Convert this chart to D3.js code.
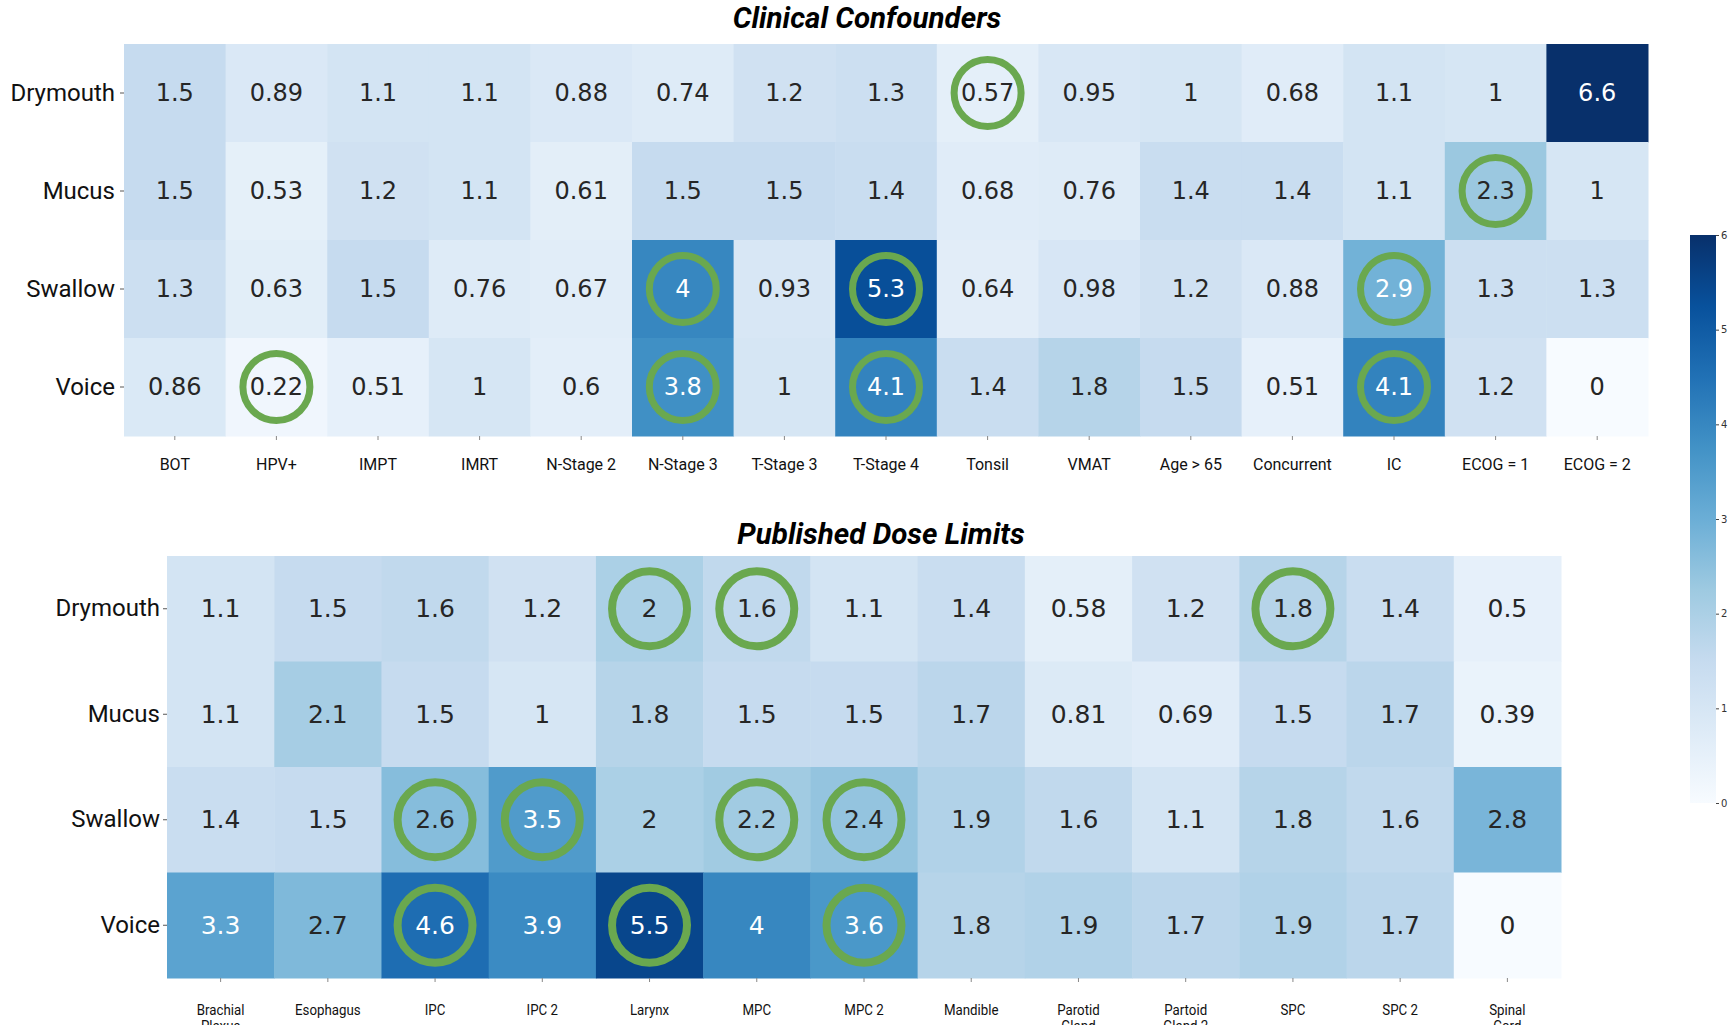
<!DOCTYPE html>
<html>
<head>
<meta charset="utf-8">
<script src="https://cdn.jsdelivr.net/npm/d3@7"></script>
<style>
  html, body { margin: 0; padding: 0; background: #fff; overflow: hidden; }
  svg { display: block; }
</style>
</head>
<body>
<div id="chart"></div>
<script>
// Odds ratios per toxicity outcome

const outcomes = ["Drymouth", "Mucus", "Swallow", "Voice"];

const clinicalFactors = ["BOT", "HPV+", "IMPT", "IMRT", "N-Stage 2", "N-Stage 3", "T-Stage 3", "T-Stage 4",
  "Tonsil", "VMAT", "Age > 65", "Concurrent", "IC", "ECOG = 1", "ECOG = 2"];
const clinicalDrymouth = [1.5, 0.89, 1.1, 1.1, 0.88, 0.74, 1.2, 1.3, 0.57, 0.95, 1, 0.68, 1.1, 1, 6.6];
const clinicalMucus    = [1.5, 0.53, 1.2, 1.1, 0.61, 1.5, 1.5, 1.4, 0.68, 0.76, 1.4, 1.4, 1.1, 2.3, 1];
const clinicalSwallow  = [1.3, 0.63, 1.5, 0.76, 0.67, 4, 0.93, 5.3, 0.64, 0.98, 1.2, 0.88, 2.9, 1.3, 1.3];
const clinicalVoice    = [0.86, 0.22, 0.51, 1, 0.6, 3.8, 1, 4.1, 1.4, 1.8, 1.5, 0.51, 4.1, 1.2, 0];
// circled (significant) cells: [outcome, factor]
const clinicalCircled = [["Drymouth", "Tonsil"], ["Mucus", "ECOG = 1"], ["Swallow", "N-Stage 3"],
  ["Swallow", "T-Stage 4"], ["Swallow", "IC"], ["Voice", "HPV+"], ["Voice", "N-Stage 3"],
  ["Voice", "T-Stage 4"], ["Voice", "IC"]];

const doseOrgans = ["Brachial Plexus", "Esophagus", "IPC", "IPC 2", "Larynx", "MPC", "MPC 2", "Mandible",
  "Parotid Gland", "Partoid Gland 2", "SPC", "SPC 2", "Spinal Cord"];
const doseDrymouth = [1.1, 1.5, 1.6, 1.2, 2, 1.6, 1.1, 1.4, 0.58, 1.2, 1.8, 1.4, 0.5];
const doseMucus    = [1.1, 2.1, 1.5, 1, 1.8, 1.5, 1.5, 1.7, 0.81, 0.69, 1.5, 1.7, 0.39];
const doseSwallow  = [1.4, 1.5, 2.6, 3.5, 2, 2.2, 2.4, 1.9, 1.6, 1.1, 1.8, 1.6, 2.8];
const doseVoice    = [3.3, 2.7, 4.6, 3.9, 5.5, 4, 3.6, 1.8, 1.9, 1.7, 1.9, 1.7, 0];
const doseCircled = [["Drymouth", "Larynx"], ["Drymouth", "MPC"], ["Drymouth", "SPC"],
  ["Swallow", "IPC"], ["Swallow", "IPC 2"], ["Swallow", "MPC"], ["Swallow", "MPC 2"],
  ["Voice", "IPC"], ["Voice", "Larynx"], ["Voice", "MPC 2"]];

const colorTicks = [0, 1, 2, 3, 4, 5, 6];

// matplotlib "Blues" (linear segments between the 9 brewer stops), vmin 0 / vmax 6
const bluesStops = ["#f7fbff", "#deebf7", "#c6dbef", "#9ecae1", "#6baed6", "#4292c6", "#2171b5", "#08519c", "#08306b"];
const color = d3.scaleLinear()
  .domain(d3.range(9).map(i => i * 6 / 8))
  .range(bluesStops)
  .interpolate(d3.interpolateRgb)
  .clamp(true);

const W = 1736, H = 1025;
const svg = d3.select("#chart").append("svg")
  .attr("width", W).attr("height", H)
  .attr("viewBox", [0, 0, W, H]);

function drawHeatmap(opt) {
  const rows = outcomes.map((o, i) => ({ name: o, values: opt.series[i] }));
  const cells = rows.flatMap(r => r.values.map((v, j) => ({ row: r.name, col: opt.cols[j], v })));

  const x = d3.scaleBand().domain(opt.cols).range([opt.left, opt.right]);
  const y = d3.scaleBand().domain(outcomes).range([opt.top, opt.bottom]);

  const g = svg.append("g");

  g.append("g").selectAll("rect")
    .data(cells)
    .join("rect")
    .attr("x", d => x(d.col))
    .attr("y", d => y(d.row))
    .attr("width", x.bandwidth() + 0.5)
    .attr("height", y.bandwidth() + 0.5)
    .attr("fill", d => color(d.v));

  g.append("g").selectAll("text")
    .data(cells)
    .join("text")
    .attr("x", d => x(d.col) + x.bandwidth() / 2)
    .attr("y", d => y(d.row) + y.bandwidth() / 2)
    .attr("text-anchor", "middle")
    .attr("dominant-baseline", "central")
    .attr("font-family", "DejaVu Sans")
    .attr("font-size", opt.cellFont)
    .attr("fill", d => d.v >= 2.9 ? "#ffffff" : "#262626")
    .text(d => d.v);

  // green rings on significant cells
  g.append("g").selectAll("circle")
    .data(opt.circled)
    .join("circle")
    .attr("cx", d => x(d[1]) + x.bandwidth() / 2)
    .attr("cy", d => y(d[0]) + y.bandwidth() / 2)
    .attr("r", opt.ring)
    .attr("fill", "none")
    .attr("stroke", "#6aa84f")
    .attr("stroke-width", opt.ringWidth);

  // y axis
  const yAxis = g.append("g")
    .attr("transform", `translate(${opt.left},0)`)
    .call(d3.axisLeft(y).tickSize(4).tickPadding(opt.yPad));
  yAxis.select(".domain").remove();
  yAxis.selectAll(".tick line").attr("stroke", "#555");
  yAxis.selectAll(".tick text")
    .attr("font-family", "Roboto, sans-serif")
    .attr("font-size", 24)
    .attr("fill", "#111");

  // x axis
  const xAxis = g.append("g")
    .attr("transform", `translate(0,${opt.bottom})`)
    .call(d3.axisBottom(x).tickSize(4).tickPadding(0));
  xAxis.select(".domain").remove();
  xAxis.selectAll(".tick line").attr("stroke", "#888");
  xAxis.selectAll(".tick text").remove();
  xAxis.selectAll(".tick").append("text")
    .attr("font-family", opt.xFont)
    .attr("font-size", opt.xFontSize)
    .attr("fill", "#111")
    .attr("text-anchor", "middle")
    .attr("transform", opt.xScale ? `scale(${opt.xScale},1)` : null)
    .selectAll("tspan")
    .data(d => opt.wrap ? d.split(" ").reduce((acc, w) => {
      // keep trailing numbers on the same line ("IPC 2", "SPC 2")
      if (acc.length && /^\d+$/.test(w)) acc[acc.length - 1] += " " + w; else acc.push(w);
      return acc;
    }, []) : [d])
    .join("tspan")
    .attr("x", 0)
    .attr("y", (d, i) => opt.xLabelY + i * opt.xFontSize * 1.15)
    .text(d => d);

  svg.append("text")
    .attr("x", opt.titleX)
    .attr("y", opt.titleY)
    .attr("text-anchor", "middle")
    .attr("font-family", "Roboto, sans-serif")
    .attr("font-style", "italic")
    .attr("font-weight", "bold")
    .attr("font-size", 29.5)
    .attr("fill", "#000")
    .text(opt.title);
}

drawHeatmap({
  title: "Clinical Confounders", titleX: 867, titleY: 28,
  cols: clinicalFactors,
  series: [clinicalDrymouth, clinicalMucus, clinicalSwallow, clinicalVoice],
  circled: clinicalCircled,
  left: 124, right: 1648, top: 44, bottom: 436,
  cellFont: 24, ring: 33.5, ringWidth: 7, yPad: 5,
  xFont: "Roboto, sans-serif", xFontSize: 16, xLabelY: 34, wrap: false
});

drawHeatmap({
  title: "Published Dose Limits", titleX: 881, titleY: 544,
  cols: doseOrgans,
  series: [doseDrymouth, doseMucus, doseSwallow, doseVoice],
  circled: doseCircled,
  left: 167, right: 1561, top: 556, bottom: 978,
  cellFont: 25, ring: 37.5, ringWidth: 8, yPad: 3,
  xFont: "Roboto, sans-serif", xFontSize: 14, xLabelY: 37, wrap: true, xScale: 0.95
});

// colour bar
const cb = { x: 1690, w: 26, top: 235, bottom: 803 };
const defs = svg.append("defs");
const grad = defs.append("linearGradient")
  .attr("id", "cbar").attr("x1", 0).attr("x2", 0).attr("y1", 1).attr("y2", 0);
grad.selectAll("stop")
  .data(bluesStops)
  .join("stop")
  .attr("offset", (d, i) => i / 8)
  .attr("stop-color", d => d);
svg.append("rect")
  .attr("x", cb.x).attr("y", cb.top)
  .attr("width", cb.w).attr("height", cb.bottom - cb.top)
  .attr("fill", "url(#cbar)");
const cbScale = d3.scaleLinear().domain([0, 6]).range([cb.bottom, cb.top]);
const cbAxis = svg.append("g")
  .attr("transform", `translate(${cb.x + cb.w},0)`)
  .call(d3.axisRight(cbScale).tickValues(colorTicks).tickFormat(d3.format("d")).tickSize(3).tickPadding(2));
cbAxis.select(".domain").remove();
cbAxis.selectAll(".tick line").attr("stroke", "#444");
cbAxis.selectAll(".tick text")
  .attr("font-family", "DejaVu Sans")
  .attr("font-size", 10)
  .attr("fill", "#333");
</script>
</body>
</html>
